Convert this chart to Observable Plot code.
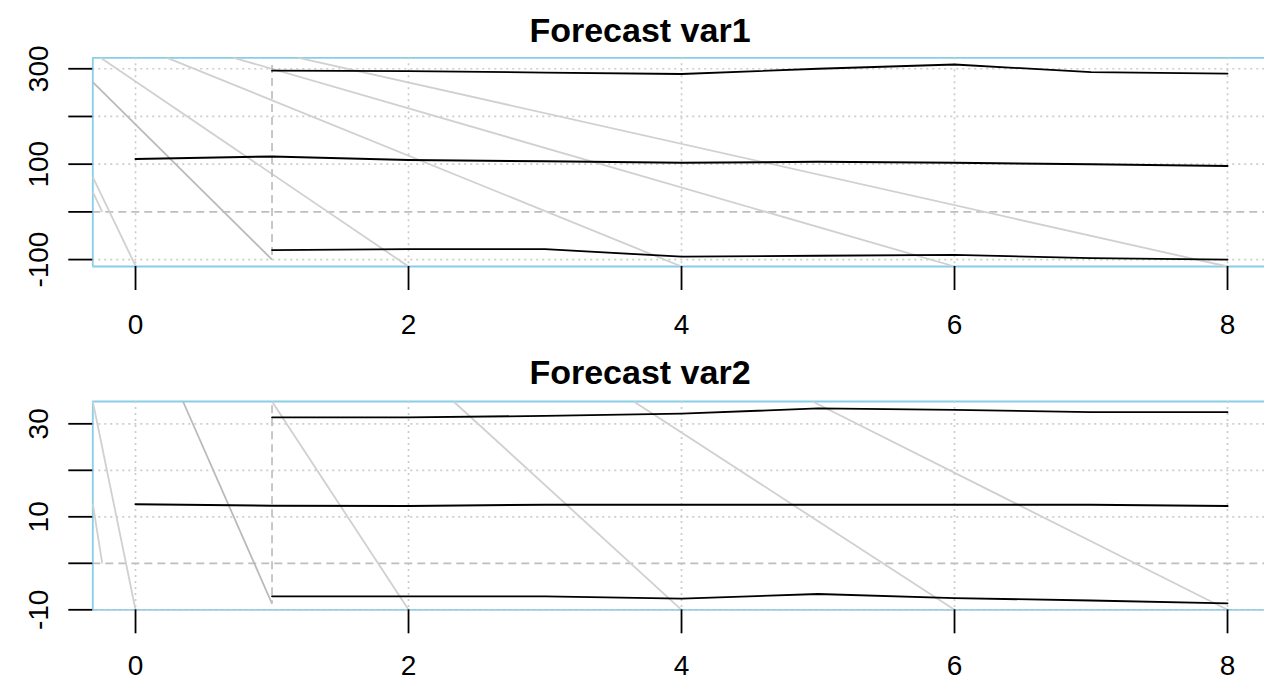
<!DOCTYPE html>
<html>
<head>
<meta charset="utf-8">
<script src="https://cdn.jsdelivr.net/npm/d3@7"></script>
<script src="https://cdn.jsdelivr.net/npm/@observablehq/plot@0.6"></script>
<style>
  html, body { margin: 0; padding: 0; background: #fff; overflow: hidden; }
  #page { position: relative; width: 1264px; height: 679px; font-family: "Liberation Sans", Arial, Helvetica, sans-serif; }
  .title { position: absolute; left: 16px; width: 1248px; text-align: center; font-weight: bold; font-size: 34px; color: #000; }
  .panel { position: absolute; left: 0; width: 1264px; }
  .panel svg { overflow: visible; }
</style>
</head>
<body>
<div id="page">
  <div class="panel" id="p1" style="top:45px;"></div>
  <div class="panel" id="p2" style="top:390px;"></div>
  <div class="title" id="t1" style="top:0px;height:60px;line-height:60px;">Forecast var1</div>
  <div class="title" id="t2" style="top:342px;height:60px;line-height:60px;">Forecast var2</div>
</div>
<script>
// Forecast horizon
const steps = [0, 1, 2, 3, 4, 5, 6, 7, 8];
const bandSteps = [1, 2, 3, 4, 5, 6, 7, 8];
const xTicks = [0, 2, 4, 6, 8];
const originStep = 1;

// var1: point forecast and interval bounds
const var1Forecast = [111, 116, 109, 106, 103, 105, 103, 100, 96];
const var1Upper = [296, 295, 292, 289, 300, 309, 293, 290];
const var1Lower = [-80, -78, -78, -94, -92, -90, -97, -100];
const var1YTicks = [-100, 0, 100, 200, 300];
const var1YLabels = [-100, 100, 300];
const var1YDomain = [-114.5, 323];
// history traces running through the window: [x0, y0, x1, y1]
const var1Traces = [
  [-0.313, 41.7, -0.244, 0],
  [-0.313, 73, 0, -113],
  [-0.256, 323, 2, -114.5],
  [0.232, 323, 4, -114.5],
  [0.72, 323, 6, -114.5],
  [1.196, 323, 8, -114.5]
];
const var1Link = [[-0.313, 272, 1, -100]];
const var1OriginSpan = [307, -100];

// var2: point forecast and interval bounds
const var2Forecast = [12.7, 12.4, 12.3, 12.6, 12.6, 12.6, 12.6, 12.6, 12.3];
const var2Upper = [31.4, 31.4, 31.7, 32.2, 33.3, 33.0, 32.5, 32.5];
const var2Lower = [-7.1, -7.1, -7.1, -7.6, -6.6, -7.5, -8.0, -8.6];
const var2YTicks = [-10, 0, 10, 20, 30];
const var2YLabels = [-10, 10, 30];
const var2YDomain = [-10, 34.8];
const var2Traces = [
  [-0.313, 12.8, -0.244, 0],
  [-0.313, 34.8, 0, -10],
  [1.0, 34.8, 2, -10],
  [2.33, 34.8, 4, -10],
  [3.65, 34.8, 6, -10],
  [4.96, 34.8, 8, -10]
];
const var2Link = [[0.348, 34.8, 1, -8.7]];
const var2OriginSpan = [33.9, -8.7];

const xDomain = [-0.313, 8.271];
const font = '"Liberation Sans", Arial, Helvetica, sans-serif';

function panel({forecast, upper, lower, yTicks, yLabels, yDomain, traces, link, originSpan, height, marginTop, marginBottom, labelOffset}) {
  const mid = steps.map((s, i) => ({x: s, y: forecast[i]}));
  const hi = bandSteps.map((s, i) => ({x: s, y: upper[i]}));
  const lo = bandSteps.map((s, i) => ({x: s, y: lower[i]}));
  const seg = (rows) => rows.map(([x1, y1, x2, y2]) => ({x1, y1, x2, y2}));
  const gridY = yTicks.filter((t) => t !== 0);
  return Plot.plot({
    width: 1264,
    height,
    marginLeft: 92.3,
    marginRight: 0,
    marginTop,
    marginBottom,
    style: {fontFamily: font, background: "white", overflow: "visible"},
    x: {domain: xDomain, axis: null},
    y: {domain: yDomain, axis: null},
    marks: [
      // plot box (left, top, bottom)
      Plot.ruleY(yDomain, {stroke: "#87ceeb", strokeWidth: 1.8}),
      Plot.ruleX([xDomain[0]], {stroke: "#87ceeb", strokeWidth: 1.8}),
      // grid
      Plot.ruleY(gridY, {stroke: "#cccccc", strokeWidth: 1.7, strokeDasharray: "2,4"}),
      Plot.ruleX(xTicks, {stroke: "#cccccc", strokeWidth: 1.7, strokeDasharray: "2,4"}),
      Plot.ruleY([0], {stroke: "#bebebe", strokeWidth: 1.7, strokeDasharray: "8,5"}),
      // history traces
      Plot.link(seg(traces), {x1: "x1", y1: "y1", x2: "x2", y2: "y2", stroke: "#d0d0d0", strokeWidth: 1.8}),
      Plot.link(seg(link), {x1: "x1", y1: "y1", x2: "x2", y2: "y2", stroke: "#bababa", strokeWidth: 1.8}),
      // forecast origin
      Plot.ruleX([originStep], {y1: originSpan[0], y2: originSpan[1], stroke: "#bebebe", strokeWidth: 1.7, strokeDasharray: "8,5"}),
      // forecast and interval
      Plot.line(hi, {x: "x", y: "y", stroke: "black", strokeWidth: 1.8}),
      Plot.line(mid, {x: "x", y: "y", stroke: "black", strokeWidth: 2}),
      Plot.line(lo, {x: "x", y: "y", stroke: "black", strokeWidth: 1.8}),
      // axes
      Plot.axisX(xTicks, {tickSize: 24, tickFormat: () => "", stroke: "black", strokeWidth: 1.8}),
      Plot.axisY(yTicks, {anchor: "left", tickSize: 24, tickFormat: () => "", stroke: "black", strokeWidth: 1.8}),
      Plot.text(xTicks, {x: (d) => d, text: (d) => String(d), frameAnchor: "bottom", lineAnchor: "middle", textAnchor: "middle", dy: labelOffset, fontSize: 28, fill: "black"}),
      Plot.text(yLabels, {y: (d) => d, text: (d) => String(d), frameAnchor: "left", textAnchor: "middle", lineAnchor: "middle", dx: -54, rotate: -90, fontSize: 28, fill: "black"})
    ]
  });
}

document.getElementById("p1").append(panel({
  forecast: var1Forecast, upper: var1Upper, lower: var1Lower,
  yTicks: var1YTicks, yLabels: var1YLabels, yDomain: var1YDomain,
  traces: var1Traces, link: var1Link, originSpan: var1OriginSpan,
  height: 300, marginTop: 12.3, marginBottom: 79, labelOffset: 59
}));

document.getElementById("p2").append(panel({
  forecast: var2Forecast, upper: var2Upper, lower: var2Lower,
  yTicks: var2YTicks, yLabels: var2YLabels, yDomain: var2YDomain,
  traces: var2Traces, link: var2Link, originSpan: var2OriginSpan,
  height: 289, marginTop: 11, marginBottom: 69.7, labelOffset: 56
}));
</script>
</body>
</html>
